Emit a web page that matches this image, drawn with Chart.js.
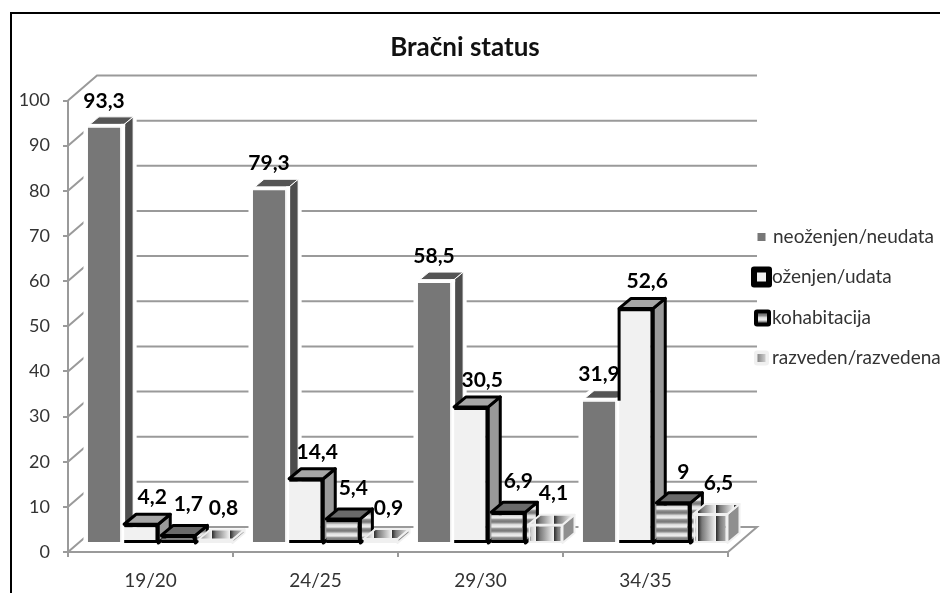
<!DOCTYPE html>
<html>
<head>
<meta charset="utf-8">
<style>
  body { margin: 0; background: #fff; }
  canvas { display: block; }
</style>
<script src="https://cdn.jsdelivr.net/npm/chart.js@4"></script>
</head>
<body>
<canvas id="chart" width="940" height="593"></canvas>
<script>
const titleText = 'Bračni status';
const categories = ['19/20', '24/25', '29/30', '34/35'];
const seriesNames = ['neoženjen/neudata', 'oženjen/udata', 'kohabitacija', 'razveden/razvedena'];
const neozenjen = [93.3, 79.3, 58.5, 31.9];
const ozenjen = [4.2, 14.4, 30.5, 52.6];
const kohabitacija = [1.7, 5.4, 6.9, 9];
const razveden = [0.8, 0.9, 4.1, 6.5];
const seriesValues = [neozenjen, ozenjen, kohabitacija, razveden];

const font = 'Lato, Carlito, sans-serif';

function tile(w, h, x1, y1, stops) {
  const c = document.createElement('canvas');
  c.width = w;
  c.height = h;
  const g = c.getContext('2d');
  const grad = g.createLinearGradient(0, 0, x1, y1);
  stops.forEach(s => grad.addColorStop(s[0], s[1]));
  g.fillStyle = grad;
  g.fillRect(0, 0, w, h);
  return document.createElement('canvas').getContext('2d').createPattern(c, 'repeat');
}

const hStripes = tile(4, 9, 0, 9, [[0, '#777'], [0.3, '#e2e2e2'], [0.55, '#eee'], [0.75, '#8a8a8a'], [1, '#777']]);
const vStripes = tile(18, 4, 18, 0, [[0, '#7a7a7a'], [0.78, '#f6f6f6'], [0.8, '#333'], [1, '#7a7a7a']]);

// one look per series, faces of the fake 3d box
const looks = [
  { front: '#777777', side: '#4d4d4d', top: '#555555', edge: '#ffffff', edgeW: 1, halo: 7, border: '#ffffff', labelDx: 0, labelDy: -26 },
  { front: '#f1f1f1', side: '#999999', top: '#a6a6a6', edge: '#000000', edgeW: 3, halo: 0, border: '#000000', labelDx: 11, labelDy: -27 },
  { front: hStripes, side: hStripes, top: '#6a6a6a', edge: '#000000', edgeW: 3, halo: 0, border: '#000000', labelDx: 10, labelDy: -31 },
  { front: vStripes, side: '#8f8f8f', top: vStripes, edge: '#f0f0f0', edgeW: 2, halo: 0, border: '#f0f0f0', labelDx: 8, labelDy: -31 }
];

const depthX = 12;
const depthY = 10;
const wallX = 29;
const wallY = 25;

function poly(ctx, pts, fill, stroke, w) {
  ctx.beginPath();
  pts.forEach((p, i) => i ? ctx.lineTo(p[0], p[1]) : ctx.moveTo(p[0], p[1]));
  ctx.closePath();
  ctx.fillStyle = fill;
  ctx.fill();
  if (w) {
    ctx.strokeStyle = stroke;
    ctx.lineWidth = w;
    ctx.lineJoin = 'round';
    ctx.stroke();
  }
}

function drawWalls(chart) {
  const { ctx, scales } = chart;
  const y = scales.y;
  const left = chart.chartArea.left;
  const right = chart.chartArea.right;
  ctx.save();
  ctx.strokeStyle = '#9a9a9a';
  ctx.lineWidth = 2;
  y.ticks.forEach((t, i) => {
    const py = y.getPixelForTick(i);
    ctx.beginPath();
    ctx.moveTo(left, py);
    ctx.lineTo(left + wallX, py - wallY);
    ctx.lineTo(right + wallX, py - wallY);
    if (i === 0) ctx.lineTo(right, py);
    ctx.stroke();
  });
  ctx.restore();
}

function drawBox(chart, bar, look, prevTop) {
  const { ctx } = chart;
  const x0 = bar.x - bar.width / 2;
  const x1 = bar.x + bar.width / 2;
  const top = bar.y;
  const base = bar.base;
  const sidePts = [[x1, top], [x1 + depthX, top - depthY], [x1 + depthX, base - depthY], [x1, base]];
  const topPts = [[x0, top], [x0 + depthX, top - depthY], [x1 + depthX, top - depthY], [x1, top]];

  // white gap round the grey columns, it also cuts the grid lines
  if (look.halo) {
    poly(ctx, [[x0, base], [x0, top], [x0 + depthX, top - depthY], [x1 + depthX, top - depthY], [x1 + depthX, base - depthY], [x1, base]], '#fff', '#fff', look.halo);
  }
  poly(ctx, sidePts, look.side, look.edge, look.edgeW);
  poly(ctx, topPts, look.top, look.edge, look.edgeW);
  if (look.halo) {
    ctx.fillStyle = '#fff';
    ctx.fillRect(x1, top - 3, 4, base - top + 3);
    ctx.fillRect(x0, top - 3, x1 - x0 + 4, 3);
  }
  bar.draw(ctx, chart.chartArea);

  // the married column only gets a left edge where it stands above its neighbour
  if (prevTop !== null && prevTop > top && look.side === '#999999') {
    ctx.strokeStyle = '#000';
    ctx.lineWidth = 3;
    ctx.beginPath();
    ctx.moveTo(x0, top);
    ctx.lineTo(x0, prevTop);
    ctx.stroke();
  }
}

function drawLegend(chart) {
  const { ctx } = chart;
  const rows = [
    { y: 237, textX: 773, outer: 0, outerColor: '#fff', inner: 8, cx: 761.5 },
    { y: 277, textX: 772, outer: 21, outerColor: '#000', inner: 9, cx: 761.5 },
    { y: 318, textX: 772, outer: 17, outerColor: '#000', inner: 9, cx: 762.5 },
    { y: 358, textX: 772, outer: 15, outerColor: '#f0f0f0', inner: 8, cx: 761.5 }
  ];
  ctx.save();
  ctx.font = '19px ' + font;
  ctx.textAlign = 'left';
  ctx.textBaseline = 'middle';
  rows.forEach((r, i) => {
    if (r.outer) {
      ctx.fillStyle = r.outerColor;
      ctx.beginPath();
      ctx.roundRect(r.cx - r.outer / 2, r.y - r.outer / 2, r.outer, r.outer, 3);
      ctx.fill();
    }
    ctx.fillStyle = looks[i].front;
    ctx.fillRect(r.cx - r.inner / 2, r.y - r.inner / 2, r.inner, r.inner);
    ctx.fillStyle = '#333';
    ctx.fillText(seriesNames[i], r.textX, r.y);
  });
  ctx.restore();
}

const box3d = {
  id: 'box3d',
  beforeDraw: (chart) => {
    const { ctx, width, height } = chart;
    ctx.save();
    ctx.fillStyle = '#fff';
    ctx.fillRect(0, 0, width, height);
    ctx.fillStyle = '#000';
    ctx.fillRect(10, 12, 2, height - 12);
    ctx.fillRect(10, 12, width - 10, 2);
    ctx.font = 'bold 26px ' + font;
    ctx.textAlign = 'center';
    ctx.textBaseline = 'middle';
    ctx.fillStyle = '#111';
    ctx.fillText(titleText, 465, 48);
    ctx.restore();
    drawWalls(chart);
  },
  // Chart.js paints the last dataset first, here the boxes must go left to right
  beforeDatasetsDraw: (chart) => {
    const { ctx } = chart;
    categories.forEach((c, i) => {
      seriesValues.forEach((vals, s) => {
        const bar = chart.getDatasetMeta(s).data[i];
        const prevTop = s > 0 ? chart.getDatasetMeta(s - 1).data[i].y : null;
        drawBox(chart, bar, looks[s], prevTop);
        ctx.save();
        ctx.font = 'bold 21px ' + font;
        ctx.textAlign = 'center';
        ctx.textBaseline = 'middle';
        ctx.fillStyle = '#000';
        ctx.fillText(String(vals[i]).replace('.', ','), bar.x + looks[s].labelDx, bar.y + looks[s].labelDy);
        ctx.restore();
      });
    });
    return false;
  },
  afterDraw: drawLegend
};

new Chart(document.getElementById('chart'), {
  type: 'bar',
  data: {
    labels: categories,
    datasets: seriesValues.map((vals, s) => ({
      label: seriesNames[s],
      data: vals.map((v, i) => ({ x: i, y: v })),
      xAxisID: 'barsX',
      yAxisID: 'barsY',
      backgroundColor: looks[s].front,
      borderColor: looks[s].border,
      borderWidth: looks[s].edgeW,
      borderSkipped: s === 1 || s === 2 ? 'left' : false,
      categoryPercentage: 0.9,
      barPercentage: 0.92
    }))
  },
  options: {
    responsive: false,
    animation: false,
    layout: { padding: { top: 100.5, right: 212, bottom: 0, left: 0 } },
    plugins: { legend: { display: false }, tooltip: { enabled: false } },
    scales: {
      x: {
        type: 'category',
        labels: categories,
        offset: true,
        afterFit: (s) => { s.height = 41; },
        border: { color: '#9a9a9a', width: 2 },
        grid: { offset: true, drawOnChartArea: false, color: '#9a9a9a', lineWidth: 2, tickLength: 5 },
        ticks: { color: '#333', padding: 12, maxRotation: 0, font: { family: font, size: 19 } }
      },
      y: {
        min: 0,
        max: 100,
        afterFit: (s) => { s.width = 68; },
        border: { color: '#9a9a9a', width: 2 },
        grid: { drawOnChartArea: false, color: '#9a9a9a', lineWidth: 2, tickLength: 5 },
        ticks: { stepSize: 10, color: '#333', padding: 13, font: { family: font, size: 18 } }
      },
      // columns stand a little behind the front edge of the floor
      barsX: { type: 'linear', display: false, offset: false, min: -0.556, max: 3.444, ticks: { stepSize: 1, includeBounds: false } },
      barsY: { display: false, min: -2.02, max: 99.21 }
    }
  },
  plugins: [box3d]
});
</script>
</body>
</html>
